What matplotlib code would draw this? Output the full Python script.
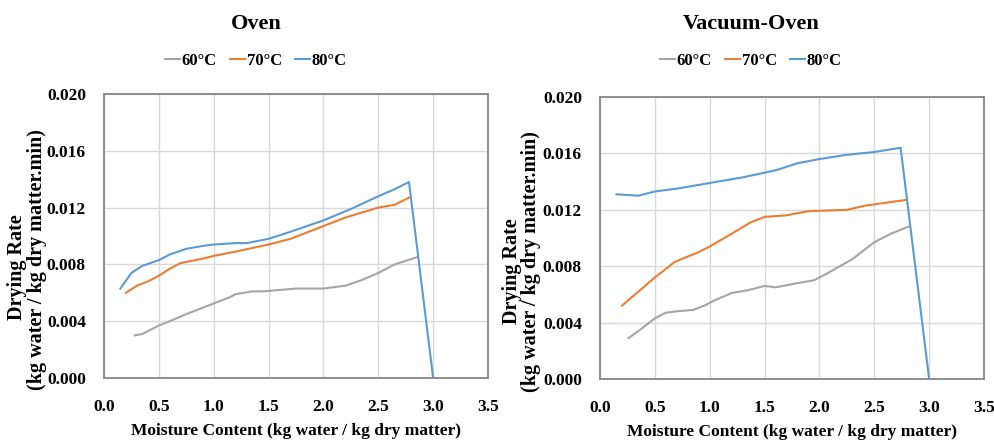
import matplotlib
matplotlib.use("Agg")
import matplotlib.pyplot as plt
from matplotlib.lines import Line2D

# Oven
oven_x60 = [0.28, 0.35, 0.5, 0.6, 0.75, 0.85, 0.95, 1.05, 1.15, 1.2, 1.35, 1.45, 1.6, 1.75, 2.0, 2.2, 2.35, 2.5, 2.65, 2.85]
oven_y60 = [0.0030, 0.0031, 0.0037, 0.0040, 0.0045, 0.0048, 0.0051, 0.0054, 0.0057, 0.0059, 0.0061, 0.0061, 0.0062, 0.0063, 0.0063, 0.0065, 0.0069, 0.0074, 0.0080, 0.0085]
oven_x70 = [0.2, 0.3, 0.4, 0.5, 0.6, 0.7, 0.9, 1.0, 1.2, 1.5, 1.7, 1.9, 2.0, 2.2, 2.5, 2.65, 2.78]
oven_y70 = [0.0060, 0.0065, 0.0068, 0.0072, 0.0077, 0.0081, 0.0084, 0.0086, 0.0089, 0.0094, 0.0098, 0.0104, 0.0107, 0.0113, 0.0120, 0.0122, 0.0127]
oven_x80 = [0.15, 0.25, 0.35, 0.5, 0.6, 0.75, 0.9, 1.0, 1.2, 1.3, 1.5, 1.7, 2.0, 2.25, 2.5, 2.65, 2.78, 3.0]
oven_y80 = [0.0063, 0.0074, 0.0079, 0.0083, 0.0087, 0.0091, 0.0093, 0.0094, 0.0095, 0.0095, 0.0098, 0.0103, 0.0111, 0.0119, 0.0128, 0.0133, 0.0138, 0.0]

# Vacuum-Oven
vac_x60 = [0.26, 0.35, 0.5, 0.6, 0.7, 0.85, 0.95, 1.05, 1.2, 1.35, 1.5, 1.6, 1.8, 1.95, 2.05, 2.3, 2.5, 2.65, 2.81]
vac_y60 = [0.0029, 0.0034, 0.0043, 0.0047, 0.0048, 0.0049, 0.0052, 0.0056, 0.0061, 0.0063, 0.0066, 0.0065, 0.0068, 0.0070, 0.0074, 0.0085, 0.0097, 0.0103, 0.0108]
vac_x70 = [0.2, 0.5, 0.68, 0.9, 1.0, 1.2, 1.37, 1.5, 1.69, 1.9, 2.25, 2.42, 2.79]
vac_y70 = [0.0052, 0.0072, 0.0083, 0.0090, 0.0094, 0.0103, 0.0111, 0.0115, 0.0116, 0.0119, 0.0120, 0.0123, 0.0127]
vac_x80 = [0.15, 0.35, 0.5, 0.7, 1.0, 1.3, 1.6, 1.8, 2.0, 2.25, 2.5, 2.74, 3.0]
vac_y80 = [0.0131, 0.0130, 0.0133, 0.0135, 0.0139, 0.0143, 0.0148, 0.0153, 0.0156, 0.0159, 0.0161, 0.0164, 0.0]

labels = ["60\u00b0C", "70\u00b0C", "80\u00b0C"]
colors = ["#A5A5A5", "#ED7D31", "#5B9BD5"]

plt.rcParams['font.family'] = ['Liberation Serif', 'DejaVu Serif']
plt.rcParams['font.weight'] = 'bold'
plt.rcParams['axes.labelweight'] = 'bold'

fig = plt.figure(figsize=(9.95, 4.48), dpi=100)

def panel(rect, title, xs, ys, tx, ylab):
    ax = fig.add_axes(rect)
    for x, y, c in zip(xs, ys, colors):
        ax.plot(x, y, color=c, lw=1.5)
    ax.set_xlim(0, 3.5)
    ax.set_ylim(0, 0.02)
    ax.set_xticks([0, 0.5, 1.0, 1.5, 2.0, 2.5, 3.0, 3.5])
    ax.set_xticklabels(["%.1f" % v for v in ax.get_xticks()])
    ax.set_yticks([0, 0.004, 0.008, 0.012, 0.016, 0.02])
    ax.set_yticklabels(["%.3f" % v for v in ax.get_yticks()])
    ax.tick_params(length=0, labelsize=12.5, pad=15)
    ax.tick_params(axis='y', pad=13)
    ax.grid(True, color="#D9D9D9", lw=1)
    ax.set_axisbelow(True)
    for s in ax.spines.values():
        s.set_color("#868686")
        s.set_linewidth(1.3)
    ax.set_xlabel("Moisture Content (kg water / kg dry matter)", fontsize=12.5,
                  fontweight='bold', labelpad=6)
    fig.text(tx, 1 - 24 / 448, title, ha='center', va='center', fontsize=16)
    handles = [Line2D([], [], color=c, lw=1.5) for c in colors]
    fig.legend(handles, labels, loc='center', bbox_to_anchor=(tx, 1 - 61 / 448), ncol=3,
               frameon=False, fontsize=12, handlelength=0.9, handletextpad=0.1,
               columnspacing=0.8)
    (x1, y1), (x2, y2) = ylab
    fig.text(x1 / 995, 1 - y1 / 448, "Drying Rate", rotation=90,
             ha='center', va='center', fontsize=14.5)
    fig.text(x2 / 995, 1 - y2 / 448, "(kg water / kg dry matter.min)", rotation=90,
             ha='center', va='center', fontsize=14.5)
    return ax

panel([104 / 995, 70 / 448, 384 / 995, 284 / 448], "Oven",
      [oven_x60, oven_x70, oven_x80], [oven_y60, oven_y70, oven_y80], 256 / 995,
      ((17, 267), (37, 260)))
panel([600 / 995, 69 / 448, 384 / 995, 282 / 448], "Vacuum-Oven",
      [vac_x60, vac_x70, vac_x80], [vac_y60, vac_y70, vac_y80], 751 / 995,
      ((512, 271), (531, 262)))

fig.savefig("out.png", dpi=100)
